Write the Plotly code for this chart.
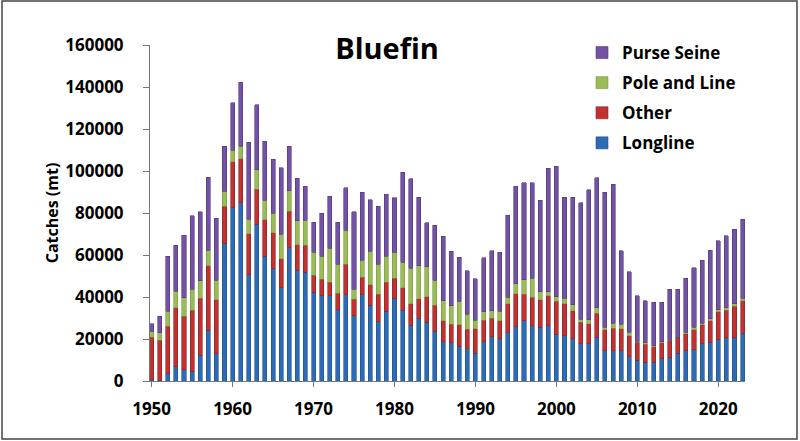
import plotly.graph_objects as go

years = list(range(1950, 2024))

# catches by gear (mt)
longline = [
    500, 300, 3500, 7000, 5400, 4600, 12200, 24100, 12900, 65400,
    82400, 84900, 50500, 74700, 59500, 53500, 44300, 63500, 52700, 51800,
    42200, 40600, 40600, 34000, 41100, 31100, 41100, 36000, 28200, 33200,
    39500, 33600, 26500, 30000, 27900, 23800, 18700, 18300, 16600, 15400,
    13200, 18700, 21100, 20200, 23000, 25900, 28600, 26300, 25600, 26300,
    22200, 21600, 20200, 17800, 17800, 20900, 14300, 14300, 14300, 11600,
    10000, 9000, 9000, 10500, 11300, 13200, 14300, 14800, 17800, 18400,
    19700, 20600, 20600, 22700,
]
other = [
    20400, 19100, 22500, 27800, 25400, 29200, 27200, 30700, 25800, 17900,
    21900, 21000, 19600, 16700, 17300, 17100, 13800, 17400, 12100, 12900,
    8100, 7800, 6400, 7900, 14600, 7800, 8400, 9900, 13200, 13800,
    9500, 10700, 10200, 9200, 12300, 12200, 10000, 8800, 10200, 9200,
    11700, 10300, 8900, 8400, 13800, 15700, 12800, 13500, 13000, 14300,
    15700, 15200, 13300, 10100, 9500, 11300, 10000, 10900, 10500, 10000,
    8400, 8500, 7300, 7600, 7900, 7300, 8100, 9500, 9000, 10300,
    13300, 13200, 15100, 15500,
]
pole_and_line = [
    2900, 3600, 7300, 7900, 8900, 9800, 8400, 7400, 9200, 7000,
    5500, 5800, 7000, 9100, 9200, 9400, 11900, 9700, 11500, 11900,
    11000, 11100, 16200, 13800, 16200, 4700, 8100, 16000, 14300, 12400,
    12300, 12200, 17100, 15700, 14100, 11900, 9400, 8800, 11100, 7300,
    4100, 4000, 3500, 4700, 3200, 4600, 6700, 9200, 3800, 1900,
    2300, 2700, 2700, 1500, 1900, 2700, 1400, 2400, 2200, 1600,
    600, 600, 500, 500, 300, 100, 800, 1200, 800, 1000,
    1000, 1100, 1000, 1200,
]
purse_seine = [
    3500, 7800, 26100, 22000, 29700, 35100, 32800, 34800, 29700, 21600,
    22600, 30500, 36500, 31100, 28100, 25700, 31600, 21100, 20200, 16200,
    14400, 20300, 24700, 20000, 20100, 36900, 32200, 24400, 27600, 29600,
    26000, 42800, 42400, 32700, 21100, 26200, 30900, 26000, 21000, 20600,
    19600, 25600, 28600, 28100, 38900, 46500, 46200, 45300, 43600, 58700,
    62000, 47900, 51200, 55500, 61900, 61900, 64100, 66200, 35100, 28900,
    21500, 20000, 20700, 18900, 24300, 23000, 25700, 28500, 29800, 32500,
    32800, 34300, 35500, 37600,
]

series = [
    ('Longline', longline, '#2D6BB5', '#1F4F8A'),
    ('Other', other, '#C03232', '#8E2222'),
    ('Pole and Line', pole_and_line, '#9BBB59', '#7A9A40'),
    ('Purse Seine', purse_seine, '#7152A3', '#54397E'),
]

fig = go.Figure()
for i, (name, vals, col, edge) in enumerate(series):
    fig.add_trace(go.Bar(
        x=years, y=vals, name=name, legendgroup=name,
        legendrank=len(series) - i,
        marker=dict(color=col, line=dict(color=edge, width=0.6)),
    ))

ml, mr, mt, mb = 150, 55, 45, 60
W, H = 800, 441
pw, ph = W - ml - mr, H - mt - mb

fig.update_layout(
    width=W, height=H,
    barmode='stack',
    bargap=0.5,
    template='plotly_white',
    plot_bgcolor='white',
    paper_bgcolor='white',
    margin=dict(l=ml, r=mr, t=mt, b=mb),
    font=dict(family='Open Sans', color='black', size=17),
    title=dict(text='<b>Bluefin</b>', x=387 / W, xanchor='center',
               y=1 - 49 / H, yanchor='middle',
               font=dict(size=29, family='Open Sans', color='black')),
    showlegend=True,
    legend=dict(traceorder='grouped', tracegroupgap=5,
                x=(582 - ml) / pw, xanchor='left',
                y=1 - (35 - mt) / ph, yanchor='top',
                bgcolor='rgba(0,0,0,0)',
                font=dict(size=17, family='Open Sans', color='black', weight='bold')),
    xaxis=dict(range=[1949.8, 2023.3], tickmode='linear', tick0=1950, dtick=10,
               showgrid=False, zeroline=False, showline=True, linecolor='#777777',
               linewidth=1, ticks='outside', ticklen=5, tickcolor='#777777',
               tickfont=dict(size=17, weight='bold'), ticklabelstandoff=8),
    yaxis=dict(range=[0, 160000], tickmode='linear', dtick=20000,
               showgrid=False, zeroline=False, showline=True, linecolor='#777777',
               linewidth=1, ticks='outside', ticklen=6, tickcolor='#777777',
               tickformat='d', tickfont=dict(size=17, weight='bold'),
               ticklabelstandoff=16,
               title=dict(text='<b>Catches (mt)</b>', font=dict(size=16), standoff=2)),
)

# outer frame around the chart
fig.add_shape(type='rect', xref='paper', yref='paper',
              x0=(2 - ml) / pw, x1=(797 - ml) / pw,
              y0=(H - mb - 439) / ph, y1=(H - mb - 1) / ph,
              line=dict(color='#444444', width=1.5), fillcolor='rgba(0,0,0,0)')

fig.write_html('out.html', config={'displayModeBar': False},
               post_script="document.body.style.margin='0';")
